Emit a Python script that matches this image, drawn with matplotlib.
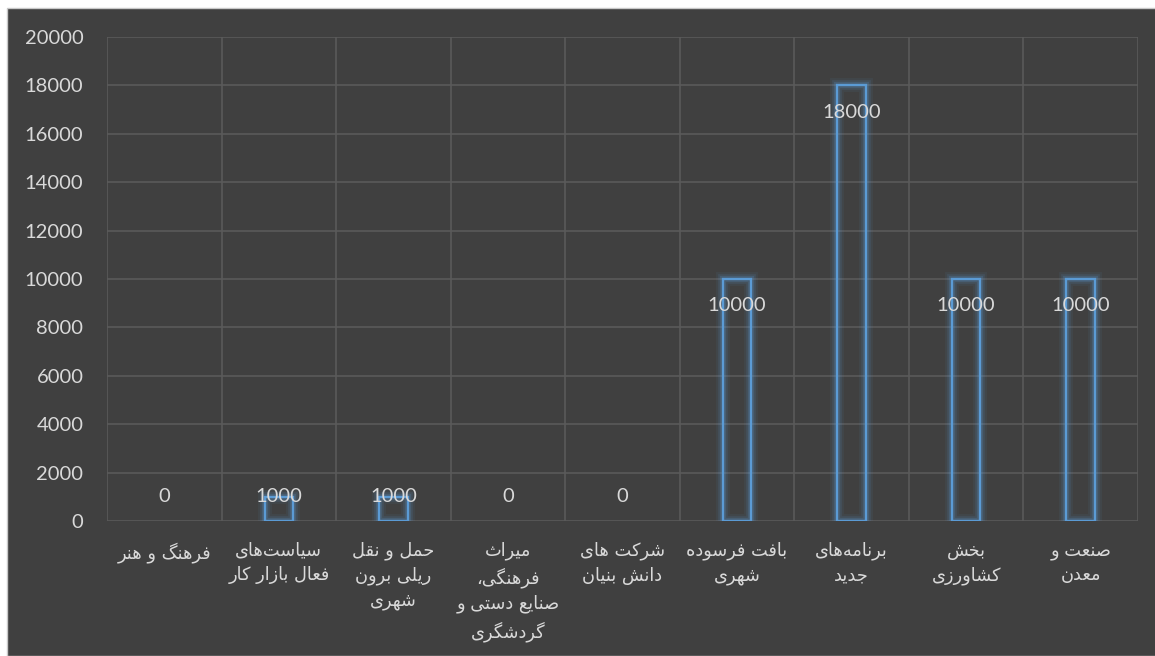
import matplotlib
matplotlib.use("Agg")
import matplotlib.pyplot as plt
import matplotlib.patheffects as pe
from matplotlib.patches import Rectangle

categories = [
    "فرهنگ و هنر",
    "سیاست‌های\nفعال بازار کار",
    "حمل و نقل\nریلی برون\nشهری",
    "میراث\nفرهنگی،\nصنایع دستی و\nگردشگری",
    "شرکت های\nدانش بنیان",
    "بافت فرسوده\nشهری",
    "برنامه‌های\nجدید",
    "بخش\nکشاورزی",
    "صنعت و\nمعدن",
]
values = [0, 1000, 1000, 0, 0, 10000, 18000, 10000, 10000]
yticks = [0, 2000, 4000, 6000, 8000, 10000, 12000, 14000, 16000, 18000, 20000]

# ---- minimal Persian shaping (matplotlib has no complex text layout) ----
FORMS = {
    'ا': (0xFE8D, 0xFE8E), 'آ': (0xFE81, 0xFE82), 'د': (0xFEA9, 0xFEAA),
    'ذ': (0xFEAB, 0xFEAC), 'ر': (0xFEAD, 0xFEAE), 'ز': (0xFEAF, 0xFEB0),
    'ژ': (0xFB8A, 0xFB8B), 'و': (0xFEED, 0xFEEE),
    'ب': (0xFE8F, 0xFE90, 0xFE91, 0xFE92), 'پ': (0xFB56, 0xFB57, 0xFB58, 0xFB59),
    'ت': (0xFE95, 0xFE96, 0xFE97, 0xFE98), 'ث': (0xFE99, 0xFE9A, 0xFE9B, 0xFE9C),
    'ج': (0xFE9D, 0xFE9E, 0xFE9F, 0xFEA0), 'چ': (0xFB7A, 0xFB7B, 0xFB7C, 0xFB7D),
    'ح': (0xFEA1, 0xFEA2, 0xFEA3, 0xFEA4), 'خ': (0xFEA5, 0xFEA6, 0xFEA7, 0xFEA8),
    'س': (0xFEB1, 0xFEB2, 0xFEB3, 0xFEB4), 'ش': (0xFEB5, 0xFEB6, 0xFEB7, 0xFEB8),
    'ص': (0xFEB9, 0xFEBA, 0xFEBB, 0xFEBC), 'ض': (0xFEBD, 0xFEBE, 0xFEBF, 0xFEC0),
    'ط': (0xFEC1, 0xFEC2, 0xFEC3, 0xFEC4), 'ظ': (0xFEC5, 0xFEC6, 0xFEC7, 0xFEC8),
    'ع': (0xFEC9, 0xFECA, 0xFECB, 0xFECC), 'غ': (0xFECD, 0xFECE, 0xFECF, 0xFED0),
    'ف': (0xFED1, 0xFED2, 0xFED3, 0xFED4), 'ق': (0xFED5, 0xFED6, 0xFED7, 0xFED8),
    'ک': (0xFB8E, 0xFB8F, 0xFB90, 0xFB91), 'گ': (0xFB92, 0xFB93, 0xFB94, 0xFB95),
    'ل': (0xFEDD, 0xFEDE, 0xFEDF, 0xFEE0), 'م': (0xFEE1, 0xFEE2, 0xFEE3, 0xFEE4),
    'ن': (0xFEE5, 0xFEE6, 0xFEE7, 0xFEE8), 'ه': (0xFEE9, 0xFEEA, 0xFEEB, 0xFEEC),
    'ی': (0xFBFC, 0xFBFD, 0xFBFE, 0xFBFF),
}


def _shape_line(s):
    out = []
    n = len(s)
    for i, c in enumerate(s):
        if c == '\u200c':
            continue
        f = FORMS.get(c)
        if f is None:
            out.append(c)
            continue
        prev = s[i - 1] if i > 0 else ''
        nxt = s[i + 1] if i + 1 < n else ''
        pc = prev in FORMS and len(FORMS[prev]) == 4
        nc = len(f) == 4 and nxt in FORMS
        if pc and nc:
            out.append(chr(f[3]))
        elif pc:
            out.append(chr(f[1]))
        elif nc:
            out.append(chr(f[2]))
        else:
            out.append(chr(f[0]))
    return ''.join(reversed(out))


def shape(text):
    return '\n'.join(_shape_line(l) for l in text.split('\n'))


BG = '#404040'
GRID = '#5A5A5A'
TXT = '#D9D9D9'
BLUE = '#5B9BD5'

fig = plt.figure(figsize=(11.55, 6.56), dpi=100)
fig.patch.set_facecolor('white')
bgrect = Rectangle((7 / 1155, 0), 1, (656 - 8) / 656, transform=fig.transFigure,
                   facecolor=BG, edgecolor='#C8C8C8', lw=1.0, zorder=-5)
fig.patches.append(bgrect)

ax = fig.add_axes([107 / 1155, 135 / 656, (1138 - 107) / 1155, (521 - 37) / 656])
ax.set_zorder(2)
ax.set_facecolor('none')
for s in ax.spines.values():
    s.set_visible(False)

n = len(categories)
x = list(range(n))
ax.set_xlim(-0.5, n - 0.5)
ax.set_ylim(0, 20000)

for yv in yticks:
    ax.axhline(yv, color=GRID, lw=1.2, zorder=1)
for b in range(n + 1):
    ax.axvline(b - 0.5, color=GRID, lw=1.2, zorder=1)

edges = [BLUE if v > 0 else 'none' for v in values]
bars = ax.bar(x, values, width=0.25, facecolor='none', edgecolor=edges, lw=1.7, zorder=3)
for b, v in zip(bars, values):
    if v > 0:
        b.set_path_effects([
            pe.Stroke(linewidth=10, foreground=BLUE, alpha=0.07),
            pe.Stroke(linewidth=7, foreground=BLUE, alpha=0.12),
            pe.Stroke(linewidth=4.5, foreground=BLUE, alpha=0.2),
            pe.Normal(),
        ])

ax.set_yticks(yticks)
ax.set_yticklabels([str(t) for t in yticks], fontsize=14.5, color=TXT, family='Lato')
ax.tick_params(axis='y', length=0, pad=17)
ax.set_xticks(x)
ax.set_xticklabels([shape(c) for c in categories], fontsize=12.8, color=TXT,
                   family='DejaVu Sans', linespacing=1.46, va='top')
ax.tick_params(axis='x', length=0, pad=15)

for xi, v in zip(x, values):
    ly = max(v - 1115, 1030)
    ax.text(xi, ly, str(v), ha='center', va='center', fontsize=14.5, color=TXT,
            family='Lato', zorder=4)

fig.savefig('out.png', dpi=100, facecolor=fig.get_facecolor())
